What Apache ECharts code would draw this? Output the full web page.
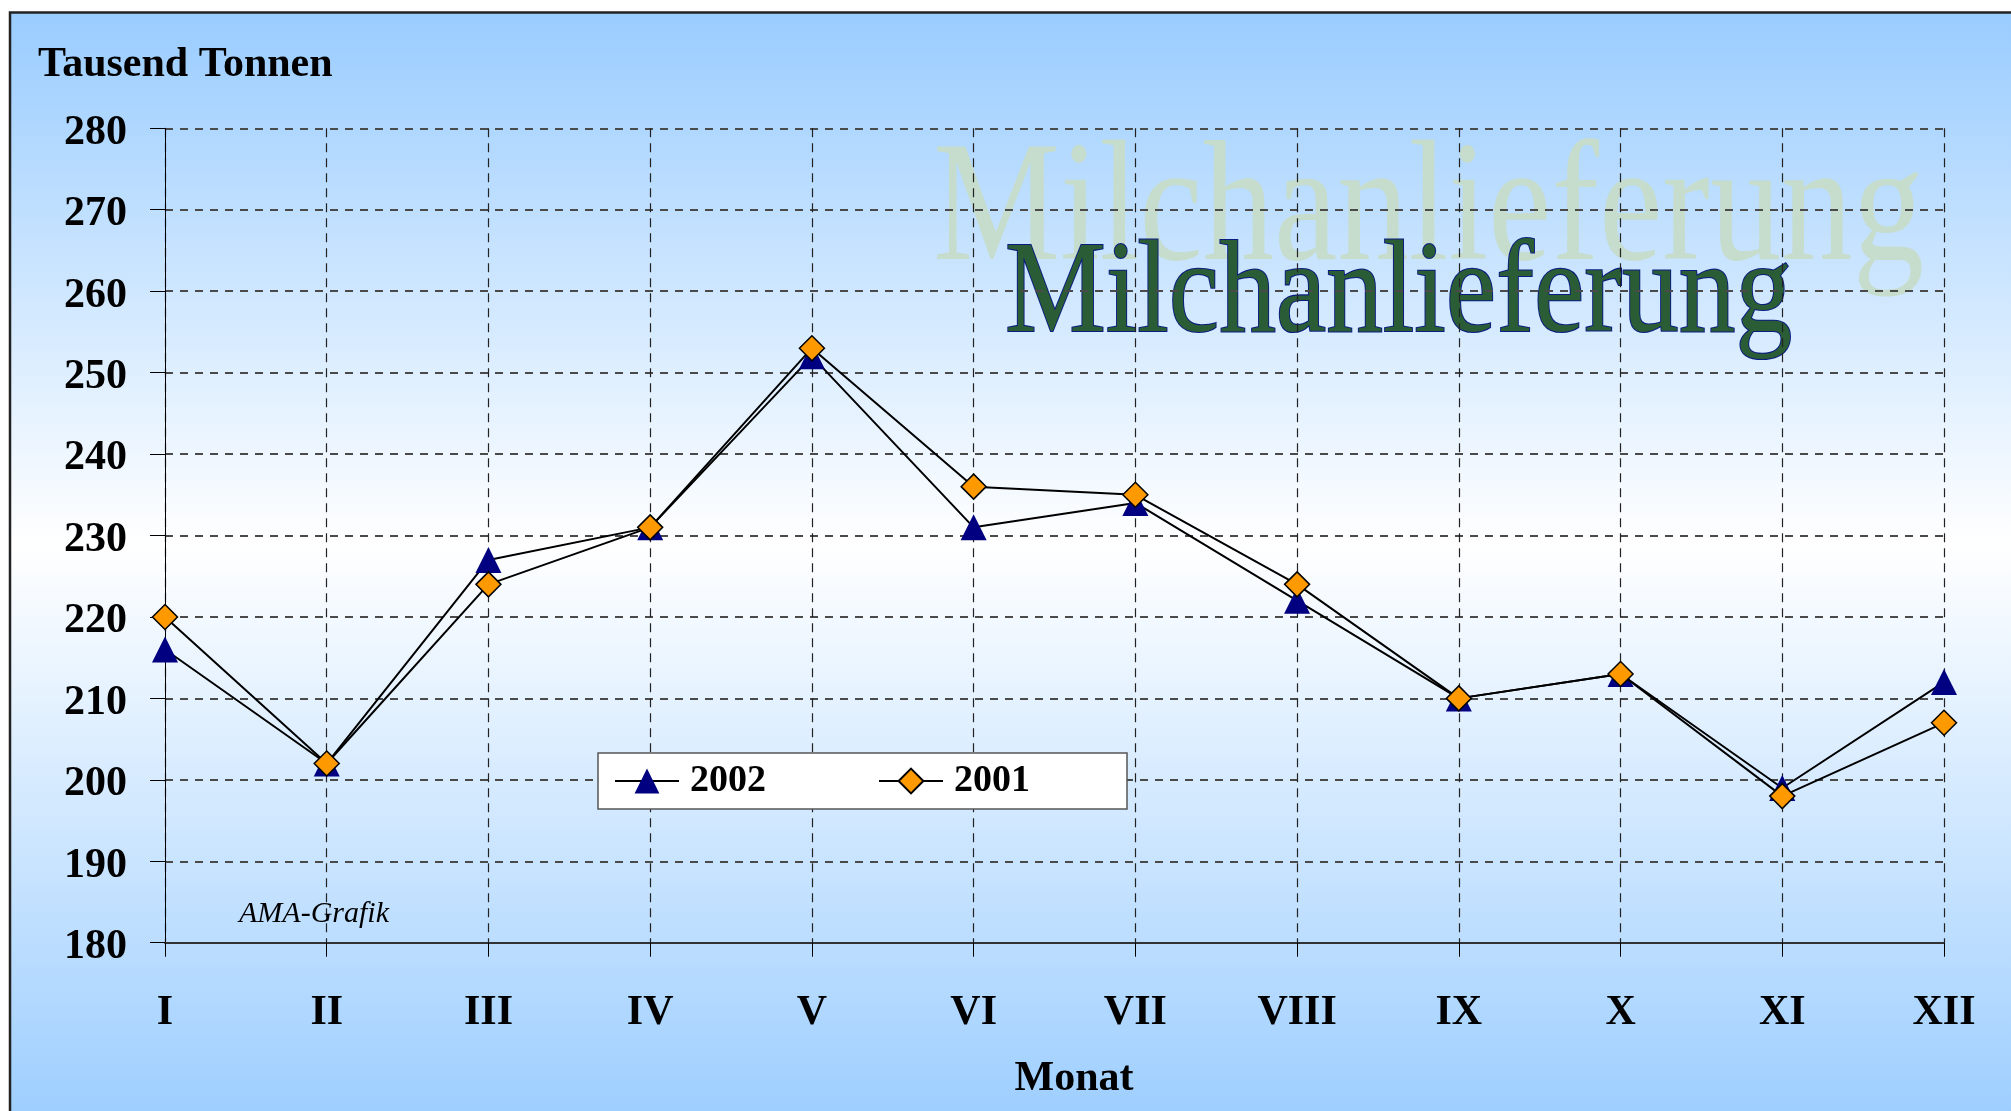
<!DOCTYPE html>
<html>
<head>
<meta charset="utf-8">
<script src="https://cdn.jsdelivr.net/npm/echarts@6/dist/echarts.min.js"></script>
<style>
html,body{margin:0;padding:0;background:#fff;}
#chart{width:2011px;height:1111px;}
</style>
</head>
<body>
<div id="chart"></div>
<script>
const categories = ['I','II','III','IV','V','VI','VII','VIII','IX','X','XI','XII'];
const values2002 = [216, 202, 227, 231, 252, 231, 234, 222, 210, 213, 199, 212];
const values2001 = [220, 202, 224, 231, 253, 236, 235, 224, 210, 213, 198, 207];
const seriesNames = ['2002', '2001'];
const yMin = 180, yMax = 280, yStep = 10;
const titleText = 'Milchanlieferung';
const yAxisTitle = 'Tausend Tonnen';
const xAxisTitle = 'Monat';
const sourceText = 'AMA-Grafik';

const SERIF = '"Liberation Serif","Times New Roman",serif';

const chart = echarts.init(document.getElementById('chart'));
const option = {
  animation: false,
  backgroundColor: '#ffffff',
  grid: { left: 165, right: 67, top: 128.3, bottom: 168.3, containLabel: false, outerBoundsMode: 'none' },
  graphic: [
    {
      type: 'rect', z: -100,
      shape: { x: 10, y: 12.5, width: 2040, height: 1130 },
      style: {
        fill: { type: 'linear', x: 0, y: 0, x2: 0, y2: 1, colorStops: [
          { offset: 0, color: '#99CCFF' },
          { offset: 0.47, color: '#FFFFFF' },
          { offset: 1, color: '#99CCFF' }
        ]},
        stroke: '#222222', lineWidth: 2.5
      }
    },
    {
      type: 'text', z: -50, x: 933, y: 213.5, scaleX: 0.83, scaleY: 1,
      style: { text: titleText, x: 0, y: 0, font: 'normal 172px ' + SERIF, fill: '#C6DCCC',
        align: 'left', textAlign: 'left', verticalAlign: 'middle', textVerticalAlign: 'middle' }
    },
    {
      type: 'text', z: -40, x: 1005, y: 296, scaleX: 0.859, scaleY: 1,
      style: { text: titleText, x: 0, y: 0, font: 'normal 132px ' + SERIF, fill: '#2A5C36',
        stroke: '#0B1C80', lineWidth: 2.2,
        align: 'left', textAlign: 'left', verticalAlign: 'middle', textVerticalAlign: 'middle' }
    },
    {
      type: 'text', z: 10, x: 38, y: 65,
      style: { text: yAxisTitle, font: 'bold 42px ' + SERIF, fill: '#000',
        align: 'left', textAlign: 'left', verticalAlign: 'middle', textVerticalAlign: 'middle' }
    },
    {
      type: 'text', z: 10, x: 1074, y: 1079,
      style: { text: xAxisTitle, font: 'bold 42px ' + SERIF, fill: '#000',
        align: 'center', textAlign: 'center', verticalAlign: 'middle', textVerticalAlign: 'middle' }
    },
    {
      type: 'text', z: 10, x: 239, y: 914,
      style: { text: sourceText, font: 'italic 30px ' + SERIF, fill: '#000',
        align: 'left', textAlign: 'left', verticalAlign: 'middle', textVerticalAlign: 'middle' }
    }
  ],
  legend: {
    left: 598, top: 753,
    orient: 'horizontal',
    padding: [9, 97, 9, 16],
    backgroundColor: '#ffffff',
    borderColor: '#555555', borderWidth: 1.5,
    itemWidth: 64, itemHeight: 31, itemGap: 112,
    data: seriesNames,
    textStyle: { fontFamily: SERIF, fontSize: 38, fontWeight: 'bold', color: '#000', padding: [4, 0, 0, 6] }
  },
  xAxis: {
    type: 'category',
    data: categories,
    boundaryGap: false,
    axisLine: { show: true, lineStyle: { color: '#333333', width: 2 } },
    axisTick: { show: true, inside: false, length: 14, alignWithLabel: true, lineStyle: { color: '#000', width: 1 } },
    axisLabel: { margin: 49, fontFamily: SERIF, fontSize: 42, fontWeight: 'bold', color: '#000' },
    splitLine: { show: true, lineStyle: { color: '#222222', width: 1.2, type: [9, 6] } }
  },
  yAxis: {
    type: 'value',
    min: yMin, max: yMax, interval: yStep,
    axisLine: { show: true, lineStyle: { color: '#000', width: 1 } },
    axisTick: { show: true, inside: false, length: 15, lineStyle: { color: '#000', width: 1 } },
    axisLabel: {
      margin: 38,
      formatter: '{v|{value}}',
      rich: { v: { fontFamily: SERIF, fontSize: 42, fontWeight: 'bold', color: '#000', padding: [9, 0, 0, 0] } },
      fontFamily: SERIF, fontSize: 42, fontWeight: 'bold', color: '#000'
    },
    splitLine: { show: true, lineStyle: { color: '#4a4a4a', width: 1.8, type: [8, 7] } }
  },
  series: [
    {
      name: seriesNames[0], type: 'line', data: values2002,
      symbol: 'triangle', symbolSize: [26, 26], showAllSymbol: true,
      itemStyle: { color: '#000080', borderWidth: 0 },
      lineStyle: { color: '#000', width: 2 },
      z: 3
    },
    {
      name: seriesNames[1], type: 'line', data: values2001,
      symbol: 'diamond', symbolSize: [25, 25], showAllSymbol: true,
      itemStyle: { color: '#FF9900', borderColor: '#000', borderWidth: 1.5 },
      lineStyle: { color: '#000', width: 2 },
      z: 4
    }
  ]
};
chart.setOption(option);
</script>
</body>
</html>
